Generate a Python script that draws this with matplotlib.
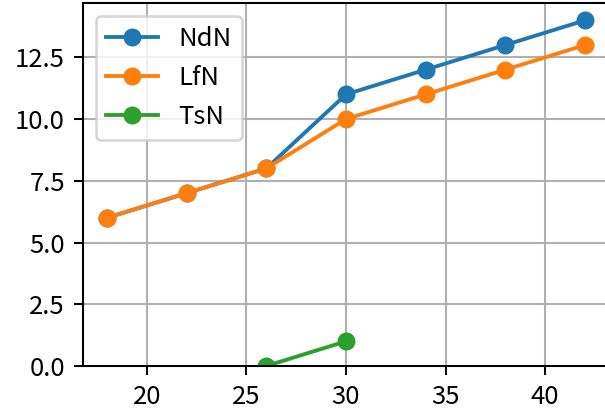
import matplotlib
matplotlib.use("Agg")
import matplotlib.pyplot as plt

plt.rcParams['font.family'] = ['Noto Sans CJK SC', 'DejaVu Sans']

DPI = 185

x_vals = [18, 22, 26, 30, 34, 38, 42]
ndn = [6, 7, 8, 11, 12, 13, 14]
lfn = [6, 7, 8, 10, 11, 12, 13]
tsn_x = [26, 30]
tsn = [0, 1]

fig = plt.figure(figsize=(605 / DPI, 415 / DPI), dpi=DPI)
ax = fig.add_axes([83 / 605, 49 / 415, 526 / 605, 363 / 415])

ax.plot(x_vals, ndn, marker='o', label='NdN')
ax.plot(x_vals, lfn, marker='o', label='LfN')
ax.plot(tsn_x, tsn, marker='o', label='TsN')

ax.set_ylim(bottom=0)
ax.grid(True)
ax.legend(loc='upper left')

fig.savefig("out.png", dpi=DPI)
